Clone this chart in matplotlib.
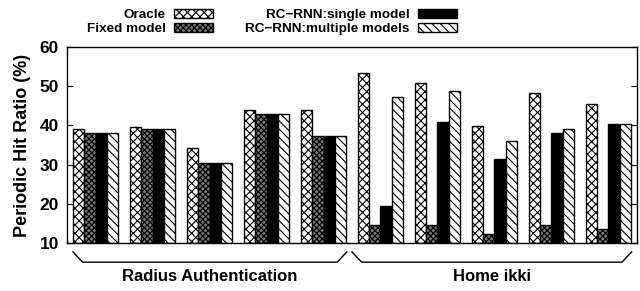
import matplotlib
matplotlib.use("Agg")
import matplotlib.pyplot as plt
import numpy as np

series_names = ["Oracle", "Fixed model", "RC\u2212RNN:single model", "RC\u2212RNN:multiple models"]
oracle   = [39.0, 39.5, 34.3, 44.0, 44.0, 53.3, 50.8, 39.9, 48.2, 45.4]
fixed    = [38.0, 39.0, 30.3, 43.0, 37.2, 14.5, 14.6, 12.3, 14.6, 13.5]
single   = [38.0, 39.0, 30.3, 43.0, 37.2, 19.4, 41.0, 31.4, 38.2, 40.4]
multiple = [38.0, 39.0, 30.3, 43.0, 37.2, 47.2, 48.9, 36.0, 39.1, 40.4]
groups = ["Radius Authentication", "Home ikki"]
group_sizes = [5, 5]
yticks = [10, 20, 30, 40, 50, 60]

plt.rcParams['font.family'] = ['Liberation Sans', 'DejaVu Sans']
plt.rcParams['font.weight'] = 'bold'
plt.rcParams['hatch.linewidth'] = 0.8

fig = plt.figure(figsize=(6.4, 2.91), dpi=100)
ax = fig.add_axes([0.105, 0.165, 0.89, 0.673])

n = len(oracle)
x = np.arange(n)
w = 0.2
styles = [
    dict(facecolor='white', hatch='xxxx'),
    dict(facecolor='#777777', hatch='xxxxxx'),
    dict(facecolor='black', hatch=None),
    dict(facecolor='white', hatch='\\\\\\\\'),
]
data = [oracle, fixed, single, multiple]
handles = []
for i, (vals, st) in enumerate(zip(data, styles)):
    b = ax.bar(x + (i - 1.5) * w, np.array(vals) - 10, w, bottom=10,
               edgecolor='black', linewidth=1.0, label=series_names[i], **st)
    handles.append(b)

ax.set_ylim(10, 60)
ax.set_xlim(-0.5, n - 0.5)
ax.set_yticks(yticks)
ax.set_yticklabels([str(t) for t in yticks], fontsize=12.5, fontweight='bold')
ax.set_xticks([])
ax.tick_params(axis='y', direction='in', right=True, length=4, width=0.8, pad=6)
for s in ax.spines.values():
    s.set_linewidth(1.0)
ax.set_ylabel("Periodic Hit Ratio (%)", fontsize=13, fontweight='bold', labelpad=6)

# braces
trans = matplotlib.transforms.blended_transform_factory(ax.transData, ax.transAxes)
brace_ranges = [(-0.4, 4.41), (4.5, 9.41)]
for g, (x0, x1) in zip(groups, brace_ranges):
    y_top, y_bot = -0.045, -0.098
    ax.plot([x0, x0 + 0.17, x1 - 0.17, x1], [y_top, y_bot, y_bot, y_top],
            color='black', lw=1.0, transform=trans, clip_on=False)
    ax.text((x0 + x1) / 2, -0.172, g, transform=trans, ha='center', va='center',
            fontsize=12, fontweight='bold')

leg = fig.legend(handles=handles, labels=series_names, loc='upper center',
                 bbox_to_anchor=(0.425, 1.01), ncol=2, frameon=False,
                 markerfirst=False, fontsize=9.7, handlelength=2.9, handleheight=0.55,
                 columnspacing=2.4, labelspacing=0.15, handletextpad=0.6)
for t in leg.get_texts():
    t.set_fontweight('bold')
    t.set_ha('right')

fig.savefig("out.png", dpi=100)
